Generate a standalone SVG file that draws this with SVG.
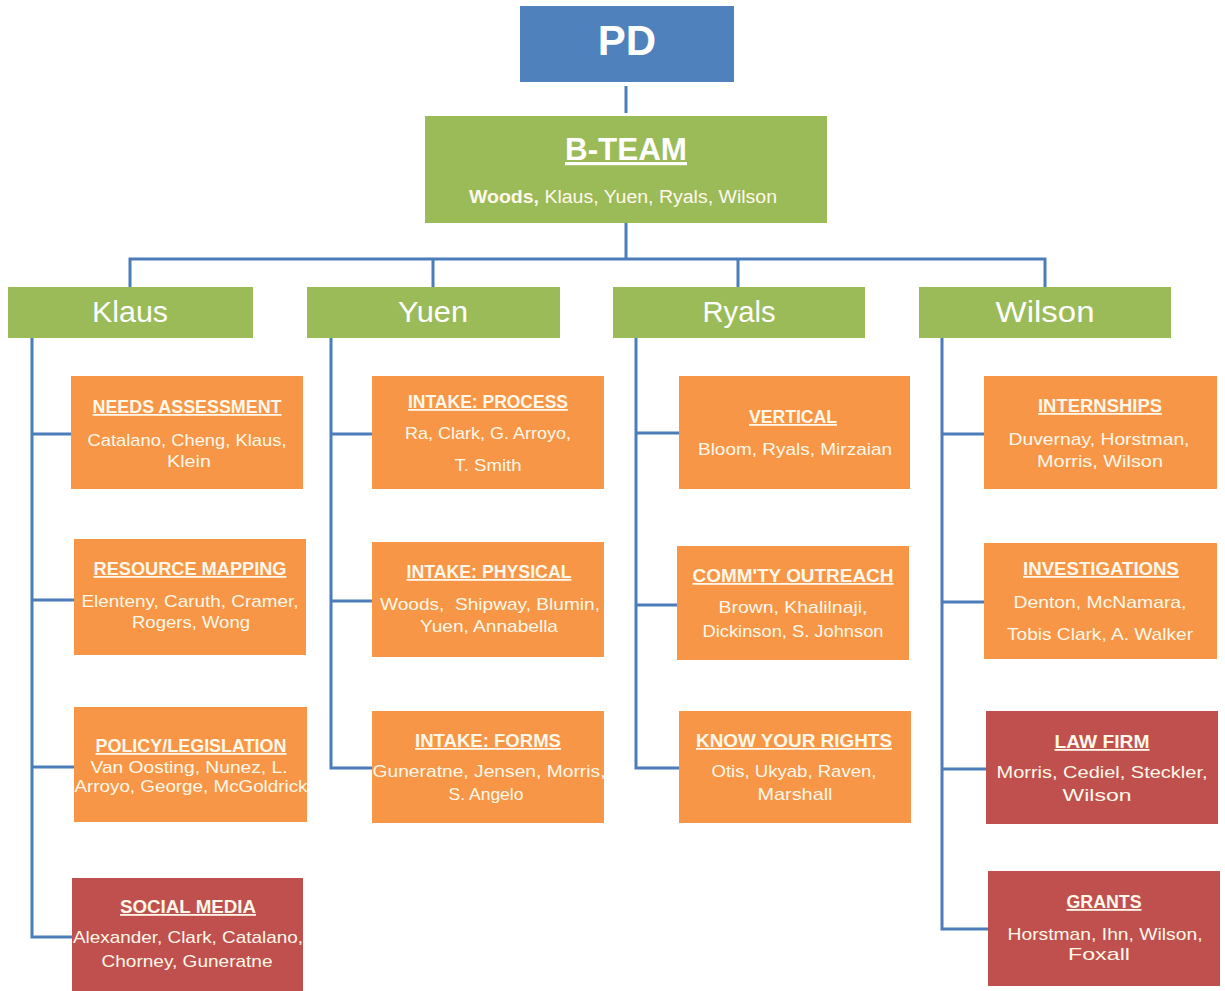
<svg xmlns="http://www.w3.org/2000/svg" width="1225" height="991" viewBox="0 0 1225 991">
<style>
.t{font-family:"Liberation Sans",Arial,sans-serif;fill:#FFF8EA;text-anchor:middle}
.ti{font-size:18px;font-weight:bold;text-decoration:underline}
.nm{font-size:17px}
.lv{font-size:30px;fill:#FFFFFF}
.or{fill:#F79646}
.rd{fill:#C0504D}
.gr{fill:#9BBB59}
.bl{fill:#4F81BD}
.cn{stroke:#4A7DBA;stroke-width:3;fill:none}
</style>
<rect width="1225" height="991" fill="#FFFFFF"/>
<g id="connectors">
<path class="cn" d="M626 86V113"/>
<path class="cn" d="M626 223V259M130 287V259H1045V287M433 259V287M738 259V287"/>
<path class="cn" d="M32 338V937H72M32 434H71M32 600H74M32 767H74"/>
<path class="cn" d="M331 338V768H372M331 434H372M331 601H372"/>
<path class="cn" d="M636 338V768H679M636 433H679M636 605H677"/>
<path class="cn" d="M942 338V929H988M942 434H984M942 602H984M942 769H986"/>
</g>
<g id="pd"><rect class="bl" x="520" y="6" width="214" height="76"/><text class="t" x="627" y="55" style="font-size:42px;font-weight:bold;fill:#fff">PD</text></g>
<g id="bteam"><rect class="gr" x="425" y="116" width="402" height="107"/>
<text class="t" x="626" y="160" style="font-size:32px;font-weight:bold;text-decoration:underline;fill:#fff" textLength="122" lengthAdjust="spacingAndGlyphs">B-TEAM</text>
<text class="t" x="623" y="203" style="font-size:18px" textLength="308" lengthAdjust="spacingAndGlyphs"><tspan font-weight="bold">Woods,</tspan> Klaus, Yuen, Ryals, Wilson</text></g>
<g id="klaus"><rect class="gr" x="8" y="287" width="245" height="51"/><text class="t lv" x="130" y="322" textLength="76" lengthAdjust="spacingAndGlyphs">Klaus</text></g>
<g id="yuen"><rect class="gr" x="307" y="287" width="253" height="51"/><text class="t lv" x="433" y="322" textLength="70" lengthAdjust="spacingAndGlyphs">Yuen</text></g>
<g id="ryals"><rect class="gr" x="613" y="287" width="252" height="51"/><text class="t lv" x="739" y="322" textLength="73" lengthAdjust="spacingAndGlyphs">Ryals</text></g>
<g id="wilson"><rect class="gr" x="919" y="287" width="252" height="51"/><text class="t lv" x="1045" y="322" textLength="99" lengthAdjust="spacingAndGlyphs">Wilson</text></g>

<g id="needs"><rect class="or" x="71" y="376" width="232" height="113"/>
<text class="t ti" x="187" y="413" textLength="189" lengthAdjust="spacingAndGlyphs">NEEDS ASSESSMENT</text>
<text class="t nm" x="187" y="446" textLength="199" lengthAdjust="spacingAndGlyphs">Catalano, Cheng, Klaus,</text>
<text class="t nm" x="189" y="467" textLength="44" lengthAdjust="spacingAndGlyphs">Klein</text></g>
<g id="resource"><rect class="or" x="74" y="539" width="232" height="116"/>
<text class="t ti" x="190" y="575" textLength="193" lengthAdjust="spacingAndGlyphs">RESOURCE MAPPING</text>
<text class="t nm" x="190" y="607" textLength="217" lengthAdjust="spacingAndGlyphs">Elenteny, Caruth, Cramer,</text>
<text class="t nm" x="191" y="628" textLength="118" lengthAdjust="spacingAndGlyphs">Rogers, Wong</text></g>
<g id="policy"><rect class="or" x="74" y="707" width="233" height="115"/>
<text class="t ti" x="191" y="752" textLength="191" lengthAdjust="spacingAndGlyphs">POLICY/LEGISLATION</text>
<text class="t nm" x="189" y="773" textLength="197" lengthAdjust="spacingAndGlyphs">Van Oosting, Nunez, L.</text>
<text class="t nm" x="191" y="792" textLength="233" lengthAdjust="spacingAndGlyphs">Arroyo, George, McGoldrick</text></g>
<g id="social"><rect class="rd" x="72" y="878" width="231" height="113"/>
<text class="t ti" x="188" y="913" textLength="136" lengthAdjust="spacingAndGlyphs">SOCIAL MEDIA</text>
<text class="t nm" x="188" y="943" textLength="230" lengthAdjust="spacingAndGlyphs">Alexander, Clark, Catalano,</text>
<text class="t nm" x="187" y="967" textLength="171" lengthAdjust="spacingAndGlyphs">Chorney, Guneratne</text></g>

<g id="process"><rect class="or" x="372" y="376" width="232" height="113"/>
<text class="t ti" x="488" y="408" textLength="160" lengthAdjust="spacingAndGlyphs">INTAKE: PROCESS</text>
<text class="t nm" x="488" y="439" textLength="166" lengthAdjust="spacingAndGlyphs">Ra, Clark, G. Arroyo,</text>
<text class="t nm" x="488" y="471" textLength="67" lengthAdjust="spacingAndGlyphs">T. Smith</text></g>
<g id="physical"><rect class="or" x="372" y="542" width="232" height="115"/>
<text class="t ti" x="489" y="578" textLength="165" lengthAdjust="spacingAndGlyphs">INTAKE: PHYSICAL</text>
<text class="t nm" x="490" y="610" textLength="220" lengthAdjust="spacingAndGlyphs" xml:space="preserve">Woods,  Shipway, Blumin,</text>
<text class="t nm" x="489" y="632" textLength="138" lengthAdjust="spacingAndGlyphs">Yuen, Annabella</text></g>
<g id="forms"><rect class="or" x="372" y="711" width="232" height="112"/>
<text class="t ti" x="488" y="747" textLength="146" lengthAdjust="spacingAndGlyphs">INTAKE: FORMS</text>
<text class="t nm" x="489" y="777" textLength="233" lengthAdjust="spacingAndGlyphs">Guneratne, Jensen, Morris,</text>
<text class="t nm" x="486" y="800" textLength="75" lengthAdjust="spacingAndGlyphs">S. Angelo</text></g>

<g id="vertical"><rect class="or" x="679" y="376" width="231" height="113"/>
<text class="t ti" x="793" y="423" textLength="88" lengthAdjust="spacingAndGlyphs">VERTICAL</text>
<text class="t nm" x="795" y="455" textLength="194" lengthAdjust="spacingAndGlyphs">Bloom, Ryals, Mirzaian</text></g>
<g id="outreach"><rect class="or" x="677" y="546" width="232" height="114"/>
<text class="t ti" x="793" y="582" textLength="201" lengthAdjust="spacingAndGlyphs">COMM'TY OUTREACH</text>
<text class="t nm" x="793" y="613" textLength="149" lengthAdjust="spacingAndGlyphs">Brown, Khalilnaji,</text>
<text class="t nm" x="793" y="637" textLength="181" lengthAdjust="spacingAndGlyphs">Dickinson, S. Johnson</text></g>
<g id="rights"><rect class="or" x="679" y="711" width="232" height="112"/>
<text class="t ti" x="794" y="747" textLength="196" lengthAdjust="spacingAndGlyphs">KNOW YOUR RIGHTS</text>
<text class="t nm" x="794" y="777" textLength="165" lengthAdjust="spacingAndGlyphs">Otis, Ukyab, Raven,</text>
<text class="t nm" x="795" y="800" textLength="75" lengthAdjust="spacingAndGlyphs">Marshall</text></g>

<g id="internships"><rect class="or" x="984" y="376" width="233" height="113"/>
<text class="t ti" x="1100" y="412" textLength="124" lengthAdjust="spacingAndGlyphs">INTERNSHIPS</text>
<text class="t nm" x="1099" y="445" textLength="181" lengthAdjust="spacingAndGlyphs">Duvernay, Horstman,</text>
<text class="t nm" x="1100" y="467" textLength="126" lengthAdjust="spacingAndGlyphs">Morris, Wilson</text></g>
<g id="investigations"><rect class="or" x="984" y="543" width="233" height="116"/>
<text class="t ti" x="1101" y="575" textLength="156" lengthAdjust="spacingAndGlyphs">INVESTIGATIONS</text>
<text class="t nm" x="1100" y="608" textLength="173" lengthAdjust="spacingAndGlyphs">Denton, McNamara,</text>
<text class="t nm" x="1100" y="640" textLength="186" lengthAdjust="spacingAndGlyphs">Tobis Clark, A. Walker</text></g>
<g id="lawfirm"><rect class="rd" x="986" y="711" width="232" height="113"/>
<text class="t ti" x="1102" y="748" textLength="95" lengthAdjust="spacingAndGlyphs">LAW FIRM</text>
<text class="t nm" x="1102" y="778" textLength="211" lengthAdjust="spacingAndGlyphs">Morris, Cediel, Steckler,</text>
<text class="t nm" x="1097" y="801" textLength="69" lengthAdjust="spacingAndGlyphs">Wilson</text></g>
<g id="grants"><rect class="rd" x="988" y="871" width="232" height="115"/>
<text class="t ti" x="1104" y="908" textLength="75" lengthAdjust="spacingAndGlyphs">GRANTS</text>
<text class="t nm" x="1105" y="940" textLength="195" lengthAdjust="spacingAndGlyphs">Horstman, Ihn, Wilson,</text>
<text class="t nm" x="1099" y="960" textLength="62" lengthAdjust="spacingAndGlyphs">Foxall</text></g>
</svg>
